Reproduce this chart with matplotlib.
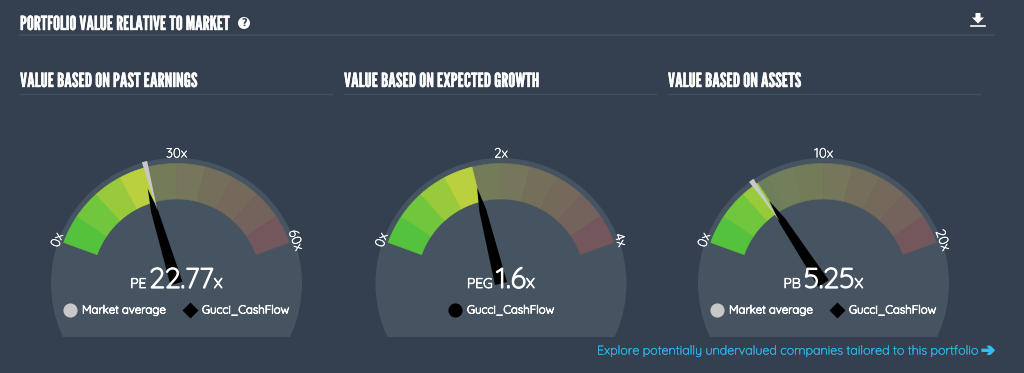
import logging
import matplotlib
matplotlib.use("Agg")
import numpy as np
import matplotlib.pyplot as plt
import matplotlib.patheffects as pe
from matplotlib.patches import Wedge, Polygon, Rectangle, Circle

logging.getLogger("matplotlib.font_manager").setLevel(logging.ERROR)

# chart values
titles = ["VALUE BASED ON PAST EARNINGS", "VALUE BASED ON EXPECTED GROWTH", "VALUE BASED ON ASSETS"]
metrics = ["PE", "PEG", "PB"]
value_labels = ["22.77", "1.6", "5.25"]
values = [22.77, 1.6, 5.25]
market_avg = [23.7, None, 5.0]
scale_max = [60, 4, 20]
company = "Gucci_CashFlow"

BG = "#34404f"
DISC = "#465462"
RULE = "#3f5066"
BRIGHT = ["#55c23d", "#70c63c", "#98ca3c", "#bbd03e", "#c2d23f"]
DIM = ["#5d7a58", "#657c5a", "#6d7e5b", "#737f5b", "#737b59",
       "#75765a", "#746f5a", "#74695b", "#74625c", "#74575c"]
TITLE_FONT = ["League Gothic", "Oswald", "Liberation Sans", "DejaVu Sans"]
BODY_FONT = ["Quicksand", "Lato", "DejaVu Sans"]

CENTERS = [176.5, 501, 823.5]
CY = 283.5
R_DISC, R_OUT, R_IN = 125.5, 120, 84.5
START, SPAN = 160, 140

fig = plt.figure(figsize=(10.24, 3.73), dpi=100, facecolor=BG)
ax = fig.add_axes([0, 0, 1, 1])
ax.set_xlim(0, 1024)
ax.set_ylim(373, 0)
ax.axis("off")


def heavy(w, color="white"):
    return [pe.withStroke(linewidth=w, foreground=color)]


def polar(cx, r, ang):
    a = np.radians(ang)
    return np.array([cx + r * np.cos(a), CY - r * np.sin(a)])


def band(cx, hi, lo, color, z=2):
    # angles go counter clockwise on screen, y axis is flipped
    ax.add_patch(Wedge((cx, CY), R_OUT, -hi, -lo, width=R_OUT - R_IN, fc=color, ec=color, lw=0.4, zorder=z))


def spike(cx, ang, profile, color, z):
    # profile is (radius, half width) going along the needle
    a = np.radians(ang)
    u = np.array([np.cos(a), -np.sin(a)])
    n = np.array([u[1], -u[0]])
    c = np.array([cx, CY])
    left = [c + u * r + n * w for r, w in profile]
    right = [c + u * r - n * w for r, w in profile[::-1]]
    ax.add_patch(Polygon(left + right, closed=True, fc=color, ec="none", zorder=z))


def row_text(cx, y, parts):
    # parts: (text, size, gap after) centred as one group on cx
    r = fig.canvas.get_renderer()
    items = []
    for s, size, gap, w_stroke in parts:
        t = ax.text(0, y, s, fontsize=size, color="white", family=BODY_FONT,
                    va="baseline", ha="left", zorder=6, path_effects=heavy(w_stroke))
        w = t.get_window_extent(r).width
        items.append((t, w, gap))
    total = sum(w + g for _, w, g in items)
    x = cx - total / 2
    for t, w, g in items:
        t.set_x(x)
        x += w + g


def legend_label(x, s):
    ax.text(x, 310, s, fontsize=8.3, color="white", family=BODY_FONT, va="center", zorder=5,
            path_effects=heavy(0.6))


# header
ax.text(20, 30, "PORTFOLIO VALUE RELATIVE TO MARKET", fontsize=14, color="white",
        family=TITLE_FONT, va="baseline", path_effects=heavy(0.3))
ax.plot([20, 994], [35, 35], color=RULE, lw=1.2, zorder=1)
ax.add_patch(Circle((244, 23), 6, fc="white", ec="none"))
ax.text(244, 23.5, "?", fontsize=7, color=BG, weight="bold", ha="center", va="center",
        family="DejaVu Sans")
ax.add_patch(Polygon([(975.5, 13), (980.5, 13), (980.5, 17.5), (984, 17.5), (978, 23.5), (972, 17.5), (975.5, 17.5)],
                     fc="white", ec="none"))
ax.plot([971, 985], [25.5, 25.5], color="white", lw=1.2)

for i, cx in enumerate(CENTERS):
    # panel heading
    left = [20, 344, 668][i]
    ax.text(left, 87, titles[i], fontsize=14.1, color="white", family=TITLE_FONT, va="baseline",
            path_effects=heavy(0.3))
    ax.plot([left, left + 312], [93.5, 93.5], color=RULE, lw=0.9, zorder=1)

    # disc cut flat at the bottom
    disc = Circle((cx, CY), R_DISC, fc=DISC, ec="none", zorder=1)
    ax.add_patch(disc)
    disc.set_clip_path(Rectangle((0, 0), 1024, 337, transform=ax.transData))

    to_ang = lambda v: START - v / scale_max[i] * SPAN
    marks = [values[i]] + ([market_avg[i]] if market_avg[i] is not None else [])
    limit = to_ang(max(marks))
    step = SPAN / 10
    for k in range(10):
        hi = START - k * step
        lo = hi - step
        band(cx, hi, lo, DIM[k])
    for k in range(5):
        hi = START - k * step
        lo = hi - step
        if hi > limit + 0.5:
            band(cx, hi, max(lo, limit), BRIGHT[k], z=3)

    # scale labels
    for frac, rot, rad in zip([0, 0.5, 1], [70, 0, -70], [126.5, 129.5, 126.5]):
        v = frac * scale_max[i]
        p = polar(cx, rad, START - frac * SPAN)
        ax.text(p[0], p[1], f"{v:g}x", fontsize=9.6, color="white", family=BODY_FONT,
                rotation=rot, rotation_mode="anchor", ha="center", va="center", zorder=5,
                path_effects=heavy(0.3))

    # needles
    spike(cx, to_ang(values[i]), [(99, 0), (75, 3.6), (0, 6.2)], "black", 4)
    if market_avg[i] is not None:
        spike(cx, to_ang(market_avg[i]), [(76, 0), (126, 2.7)], "#c8c8c8", 5)

    row_text(cx, 288, [(metrics[i], 10, 3, 0.6), (value_labels[i], 20.5, 0, 0.9), ("x", 14, 0, 0.6)])

    # legend
    if market_avg[i] is not None:
        ax.plot(cx - 106.5, 310, "o", ms=10.2, color="#c8c8c8", mec="none", zorder=5)
        legend_label(cx - 94.5, "Market average")
        ax.plot(cx + 13.5, 310, "D", ms=8.6, color="black", mec="none", zorder=5)
        legend_label(cx + 25.5, company)
    else:
        ax.plot(cx - 46, 310, "o", ms=10.2, color="black", mec="none", zorder=5)
        legend_label(cx - 34, company)

# footer link
ax.text(597, 351, "Explore potentially undervalued companies tailored to this portfolio", fontsize=9.0,
        color="#2fb4e9", family=BODY_FONT, va="center", path_effects=heavy(0.25, "#2fb4e9"))
ax.text(988, 350.5, "\u2794", fontsize=12, color="#2fc0f0", family="DejaVu Sans", ha="center", va="center",
        weight="bold", path_effects=heavy(1.0, "#2fc0f0"))

fig.savefig("out.png", dpi=100, facecolor=BG)
